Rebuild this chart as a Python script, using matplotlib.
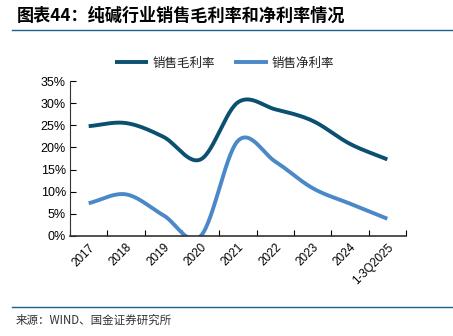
import numpy as np
import matplotlib
matplotlib.use('Agg')
import matplotlib.pyplot as plt
from matplotlib.ticker import FuncFormatter

plt.rcParams['font.family'] = ['Noto Sans CJK SC', 'DejaVu Sans']

# 数据
years = ['2017', '2018', '2019', '2020', '2021', '2022', '2023', '2024', '1-3Q2025']
gross = [24.8, 25.5, 22.4, 17.3, 30.2, 28.6, 26.0, 20.8, 17.3]
net = [7.4, 9.4, 4.7, 0.0, 21.5, 16.8, 10.8, 7.3, 3.9]


def smooth(y, n=30):
    # Catmull-Rom 平滑 (类似 Excel 平滑线)
    y = np.asarray(y, dtype=float)
    p = np.concatenate([[2 * y[0] - y[1]], y, [2 * y[-1] - y[-2]]])
    xs, ys = [], []
    for i in range(len(y) - 1):
        p0, p1, p2, p3 = p[i], p[i + 1], p[i + 2], p[i + 3]
        t = np.linspace(0, 1, n, endpoint=False)
        v = 0.5 * ((2 * p1) + (-p0 + p2) * t + (2 * p0 - 5 * p1 + 4 * p2 - p3) * t ** 2
                   + (-p0 + 3 * p1 - 3 * p2 + p3) * t ** 3)
        xs.append(i + t)
        ys.append(v)
    xs.append([len(y) - 1])
    ys.append([y[-1]])
    return np.concatenate(xs), np.concatenate(ys)


fig = plt.figure(figsize=(4.53, 3.36), dpi=100)
ax = fig.add_axes([70 / 453, 1 - 236 / 336, 336 / 453, 155 / 336])

x = np.arange(len(years))
gx, gy = smooth(gross)
nx, ny = smooth(net)
ax.plot(gx, gy, color='#0B4F71', lw=2.8, label='销售毛利率', solid_capstyle='butt')
ax.plot(nx, ny, color='#4A88C8', lw=2.8, label='销售净利率', solid_capstyle='butt')

ax.set_xlim(-0.5, len(years) - 0.5)
ax.set_ylim(0, 35)
ax.set_yticks(np.arange(0, 36, 5))
ax.yaxis.set_major_formatter(FuncFormatter(lambda v, _: f'{v:.0f}%'))
ax.set_xticks(x)
ax.set_xticklabels(years, rotation=45, ha='right', rotation_mode='anchor',
                   family=['Liberation Sans', 'DejaVu Sans'], fontsize=8.5)
ax.set_xticks(np.arange(-0.5, len(years), 1), minor=True)
ax.tick_params(axis='x', which='major', length=0, pad=4)
ax.tick_params(axis='x', which='minor', length=4, direction='in', width=0.8)
ax.tick_params(axis='y', length=4, direction='in', width=0.8, pad=3)
for lab in ax.get_yticklabels():
    lab.set_family(['Liberation Sans', 'DejaVu Sans'])
    lab.set_fontsize(9)
ax.spines['top'].set_visible(False)
ax.spines['right'].set_visible(False)
ax.spines['left'].set_color('#333333')
ax.spines['bottom'].set_color('#333333')
ax.spines['left'].set_linewidth(0.8)
ax.spines['bottom'].set_linewidth(1.2)

leg = ax.legend(loc='upper center', bbox_to_anchor=(0.46, 1.23), ncol=2, frameon=False,
                fontsize=9, handlelength=2.7, columnspacing=1.5, handletextpad=0.35)
for t in leg.get_texts():
    t.set_color('#222222')

# 标题与来源
fig.text(17 / 453, 1 - 16 / 336, '图表44：纯碱行业销售毛利率和净利率情况', fontsize=12.3,
         fontweight='bold', va='center', ha='left', style='italic')
fig.add_artist(plt.Line2D([12 / 453, 1], [1 - 30 / 336] * 2, color='#1F5F8B', lw=1))
fig.add_artist(plt.Line2D([12 / 453, 1], [1 - 307 / 336] * 2, color='#1F5F8B', lw=1))
fig.text(16 / 453, 1 - 320 / 336, '来源：WIND、国金证券研究所', fontsize=8.3,
         va='center', ha='left', color='#333333')

plt.savefig('out.png', dpi=100)
